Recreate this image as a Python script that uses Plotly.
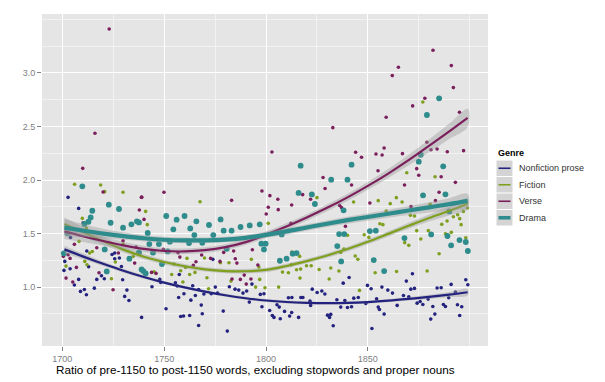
import plotly.graph_objects as go

# ---------------- data ----------------
genres = ["Nonfiction prose", "Fiction", "Verse", "Drama"]
colors = ["#23237f", "#7f9f1f", "#7b1f5c", "#2f8c8c"]

nonfiction_year = [1702.8, 1708, 1704, 1712, 1724.4, 1725.7, 1725.7, 1728, 1701.2, 1703.8, 1712.9, 1700.8,
                   1729, 1719.2, 1720.6, 1716.9, 1729.6, 1708, 1705.9, 1715.7, 1710.8, 1708.9, 1711.8, 1731.7,
                   1730.6, 1732.7, 1773.9, 1757.4, 1744, 1747.8, 1748.3, 1755.5, 1756.4, 1764, 1766.9, 1769.5,
                   1773.1, 1776.2, 1775.1, 1759.7, 1765.3, 1757.1, 1763.1, 1750.9, 1768.2, 1738.9, 1758.1,
                   1759.5, 1762.5, 1768.7, 1766.9, 1793.1, 1782, 1784.8, 1786.6, 1790.5, 1788.7, 1797.2, 1799,
                   1811, 1812.7, 1817.1, 1818.1, 1821.6, 1791.8, 1798, 1805.4, 1801.8, 1803.1, 1803.9, 1806.5,
                   1809.1, 1812.6, 1807, 1811.6, 1816, 1779, 1781, 1837.9, 1840.8, 1822.7, 1825.1, 1827.4,
                   1828.9, 1834.8, 1838.7, 1843.1, 1845.3, 1849.8, 1851.6, 1856.9, 1859.8, 1862.1, 1854.3,
                   1864.4, 1821.9, 1836.7, 1840, 1842, 1855.1, 1855.7, 1858, 1830.2, 1831.8, 1831.2, 1833, 1852,
                   1849, 1871.9, 1868.9, 1871.1, 1872.9, 1884, 1886, 1890.9, 1898.1, 1899.1, 1893, 1867.5,
                   1870.1, 1874.2, 1875.7, 1877, 1879.6, 1881.9, 1887.1, 1888.1, 1889.7, 1894, 1896.1, 1882.9,
                   1880.9, 1895.1]
nonfiction_ratio = [1.838, 1.735, 1.464, 1.337, 1.305, 1.318, 1.265, 1.271, 1.24, 1.171, 1.19, 1.156,
                    1.193, 1.106, 1.078, 1.072, 1.069, 1.072, 1.019, 0.99, 0.978, 0.96, 0.928, 0.972,
                    0.913, 0.875, 1.259, 1.118, 1.003, 1.072, 1.044, 1.041, 1.01, 1.013, 0.978, 0.935,
                    0.938, 0.944, 1.0, 0.938, 0.922, 0.903, 0.878, 0.798, 0.832, 0.717, 0.726,
                    0.73, 0.735, 0.751, 0.642, 1.028, 1.003, 0.981, 0.972, 0.963, 0.944, 0.932, 0.938,
                    0.9, 0.903, 0.903, 0.903, 0.869, 0.86, 0.816, 0.835, 0.782, 0.735, 0.717, 0.813,
                    0.773, 0.763, 0.704, 0.729, 0.717, 0.776, 0.589, 1.037, 1.09, 0.981, 0.95, 0.963,
                    0.935, 0.882, 0.875, 0.897, 0.903, 1.016, 0.985, 1.0, 0.972, 0.944, 0.891,
                    0.829, 0.829, 0.813, 0.81, 0.816, 0.813, 0.791, 0.748, 0.738, 0.745, 0.717, 0.639, 0.614,
                    0.847, 1.125, 1.056, 0.981, 0.988, 0.991, 0.994, 1.025, 1.069, 1.022, 0.953, 0.922,
                    0.91, 0.85, 0.866, 0.838, 0.888, 0.819, 0.838, 0.819, 0.9, 0.835, 0.816, 0.748,
                    0.701, 0.735]

fiction_year = [1706, 1718.8, 1720.8, 1729.8, 1709.8, 1711.8, 1708.2, 1729.8, 1713.4, 1714.7, 1711, 1726,
                1712.1, 1701.8, 1724.1, 1767.6, 1740.9, 1741.7, 1738, 1761.2, 1769.8, 1734.8, 1745, 1754.8,
                1758.1, 1760.5, 1765.1, 1762.5, 1753.7, 1759.2, 1771, 1771.8, 1801.1, 1812.7, 1816.5,
                1777.6, 1781.8, 1792.8, 1796.5, 1815, 1812.4, 1819.9, 1817, 1808.1, 1811, 1816.7, 1782.8,
                1796.9, 1806.2, 1794.9, 1799.5, 1825, 1843, 1855.1, 1861, 1859, 1855.9, 1857.4, 1840,
                1848.2, 1850.5, 1838.2, 1836.7, 1843.8, 1845.1, 1853.6, 1831.8, 1826.1, 1835.8, 1822.2,
                1831, 1845.9, 1864.1, 1869.1, 1883, 1866.8, 1880.6, 1898.9, 1896.9, 1894.1, 1892, 1895.1,
                1870.9, 1872.9, 1888.9, 1886.3, 1895.8, 1874, 1879.7, 1888.1, 1891, 1868.1, 1870.1, 1876,
                1898.1, 1885, 1879.1, 1877, 1864]
fiction_ratio = [1.96, 1.953, 1.891, 1.885, 1.642, 1.552, 1.427, 1.402, 1.318, 1.333, 1.24, 1.234,
                 1.209, 1.196, 1.078, 1.797, 1.707, 1.583, 1.315, 1.268, 1.271, 1.287, 1.143, 1.215,
                 1.153, 1.184, 1.137, 1.118, 1.118, 1.047, 1.087, 0.985, 1.595, 1.327, 1.287,
                 1.228, 1.228, 1.259, 1.187, 1.162, 1.209, 1.2, 1.168, 1.14, 1.134, 1.084, 1.056,
                 1.072, 1.0, 1.0, 0.994, 1.835, 1.794, 1.807, 1.779, 1.71, 1.592, 1.583, 1.483,
                 1.489, 1.464, 1.355, 1.324, 1.29, 1.259, 1.134, 1.178, 1.165, 1.15, 1.2,
                 1.075, 0.969, 1.146, 2.068, 2.031, 1.794, 1.773, 1.738, 1.707, 1.676, 1.657, 1.639,
                 1.67, 1.664, 1.617, 1.586, 1.583, 1.527, 1.527, 1.498, 1.511, 1.415, 1.39, 1.449,
                 1.461, 1.312, 1.15, 2.729, 1.835]

verse_year = [1723, 1716, 1710, 1739, 1720, 1710.2, 1705.9, 1729.8, 1716.9, 1702.8, 1727.5, 1700.5,
              1703.8, 1706.9, 1718, 1701.8, 1705.1, 1724.9, 1749.9, 1738.8, 1737.8, 1740.1, 1736.2,
              1749.6, 1756.8, 1768.4, 1757.7, 1765.6, 1772.8, 1777.4, 1735.5, 1743.8, 1746, 1764.3,
              1798, 1801.9, 1783.1, 1801.1, 1812.6, 1806, 1818, 1800.1, 1812.2, 1793.3, 1784.1, 1779.2,
              1784.9, 1796, 1785.7, 1783.3, 1787.4, 1789.3, 1792.6, 1790.3, 1832.8, 1802.9, 1844,
              1846.9, 1854, 1855, 1828, 1842, 1829, 1805.8, 1821.9, 1836.1, 1837.1, 1851, 1839, 1882,
              1865, 1862, 1891, 1892, 1878, 1872, 1859, 1895, 1858, 1857, 1867, 1879, 1881, 1884, 1889,
              1897, 1874, 1875, 1886, 1893, 1868, 1885, 1871.2, 1883.2]
verse_ratio = [3.41, 2.436, 2.109, 1.84, 1.888, 1.6, 1.399, 1.433, 1.368, 1.302, 1.318, 1.287,
               1.268, 1.184, 1.134, 1.084, 1.047, 0.975, 1.885, 1.838, 1.72, 1.632, 1.374,
               1.352, 1.321, 1.299, 1.28, 1.237, 1.268, 1.24, 1.224, 1.137, 1.128, 1.203,
               1.897, 1.854, 1.81, 1.745, 1.766, 1.723, 1.863, 1.682, 1.595, 1.349, 1.337, 1.324,
               1.265, 1.206, 1.224, 1.075, 1.072, 1.112, 1.075, 1.028, 2.489, 2.262, 2.259,
               2.212, 2.243, 2.087, 2.024, 1.953, 1.92, 1.82, 1.82, 1.763, 1.742, 1.785, 1.567, 3.212,
               3.053, 2.975, 3.068, 2.863, 2.763, 2.692, 2.586, 2.632, 2.299, 2.234, 2.246, 2.352, 2.283, 2.29,
               2.264, 2.274, 2.106, 2.044, 2.031, 1.978, 1.953, 1.885, 1.751, 1.807]

drama_year = [1709.8, 1722.8, 1727.8, 1714.7, 1713.9, 1712.8, 1710.8, 1723.7, 1729.8, 1733.9, 1702.5,
              1720.8, 1700.7, 1732.9, 1721.8, 1736.6, 1737.6, 1751, 1756.1, 1760, 1765.8, 1772, 1762.8,
              1754.5, 1741.9, 1764.8, 1774.1, 1752.8, 1762.2, 1768.7, 1742.7, 1747.4, 1751.7, 1737.6,
              1744.5, 1738.9, 1739.8, 1740.9, 1748.9, 1777.7, 1792, 1796.9, 1787.5, 1779.2, 1783.1,
              1807.7, 1797.7, 1799.8, 1799, 1780.7, 1806.8, 1810.1, 1813.1, 1815, 1816, 1822.5, 1817,
              1842, 1832, 1840, 1824, 1838.1, 1835.9, 1838.4, 1851, 1853.9, 1835, 1836.9, 1852.9, 1858,
              1877.1, 1888.1, 1890, 1881.1, 1889.1, 1868, 1890.9, 1895, 1898.1, 1899.1, 1885, 1879, 1876,
              1875, 1887]
drama_ratio = [1.941, 1.77, 1.729, 1.713, 1.651, 1.61, 1.589, 1.601, 1.555, 1.586, 1.502,
               1.352, 1.315, 1.265, 1.146, 1.614, 1.604, 1.664, 1.63, 1.664, 1.614, 1.58, 1.548,
               1.539, 1.505, 1.486, 1.486, 1.424, 1.411, 1.414, 1.402, 1.402, 1.333, 1.324,
               1.321, 1.165, 1.15, 1.128, 1.215, 1.632, 1.576, 1.586, 1.561, 1.527, 1.527,
               1.492, 1.405, 1.405, 1.352, 1.358, 1.246, 1.265, 1.312, 1.318, 1.879, 1.865, 2.134,
               2.143, 2.003, 2.003, 1.776, 1.717, 1.495, 1.495, 1.523, 1.527, 1.383, 1.24, 1.252, 1.15,
               1.857, 1.866, 1.707, 1.492, 1.477, 1.458, 1.39, 1.439, 1.421, 1.337, 2.763, 2.607, 2.236,
               2.171, 2.128]

# smoothed (loess) curves and their standard-error half widths
smooth_year = [1701, 1710, 1720, 1730, 1740, 1750, 1760, 1770, 1780, 1790, 1800,
               1810, 1820, 1830, 1840, 1850, 1860, 1870, 1880, 1890, 1899]
nonfiction_fit = [1.352, 1.287, 1.218, 1.153, 1.094, 1.042, 0.997, 0.958, 0.924, 0.896, 0.875,
                  0.861, 0.853, 0.85, 0.852, 0.86, 0.873, 0.89, 0.909, 0.93, 0.952]
fiction_fit = [1.59, 1.515, 1.43, 1.35, 1.284, 1.234, 1.195, 1.166, 1.15, 1.148, 1.16,
               1.197, 1.243, 1.295, 1.355, 1.423, 1.497, 1.572, 1.645, 1.712, 1.778]
verse_fit = [1.52, 1.475, 1.43, 1.39, 1.357, 1.337, 1.333, 1.345, 1.373, 1.42, 1.49,
             1.566, 1.65, 1.74, 1.838, 1.945, 2.06, 2.185, 2.318, 2.455, 2.58]
drama_fit = [1.555, 1.528, 1.5, 1.476, 1.456, 1.442, 1.436, 1.437, 1.444, 1.46, 1.488,
             1.52, 1.557, 1.592, 1.625, 1.655, 1.685, 1.715, 1.745, 1.775, 1.805]
nonfiction_se = [0.035, 0.028, 0.022, 0.018, 0.016, 0.014, 0.013, 0.013, 0.013, 0.013, 0.013,
                 0.013, 0.013, 0.013, 0.013, 0.013, 0.014, 0.016, 0.019, 0.024, 0.03]
fiction_se = [0.06, 0.045, 0.035, 0.028, 0.024, 0.022, 0.021, 0.021, 0.021, 0.021, 0.021,
              0.021, 0.021, 0.022, 0.022, 0.023, 0.025, 0.028, 0.033, 0.04, 0.05]
verse_se = [0.07, 0.055, 0.042, 0.034, 0.03, 0.028, 0.027, 0.027, 0.027, 0.028, 0.029,
            0.03, 0.031, 0.032, 0.034, 0.037, 0.042, 0.05, 0.06, 0.072, 0.085]
drama_se = [0.08, 0.06, 0.045, 0.035, 0.03, 0.027, 0.026, 0.026, 0.026, 0.027, 0.028,
            0.029, 0.03, 0.031, 0.033, 0.035, 0.038, 0.042, 0.048, 0.055, 0.065]

x_ticks = [1700, 1750, 1800, 1850]
y_ticks = [1.0, 1.5, 2.0, 2.5, 3.0]
y_ticklabels = ["1.0", "1.5", "2.0", "2.5", "3.0"]
x_title = "Ratio of pre-1150 to post-1150 words, excluding stopwords and proper nouns"
legend_title = "Genre"

# ---------------- figure ----------------
# the page body has an 8px margin, so the figure is drawn 8px smaller and shifted
OFF = 8
W, H = 605 - OFF, 382 - OFF
PANEL_L, PANEL_T, PANEL_R, PANEL_B = 42, 14, 488, 346   # page pixels
ML, MT = PANEL_L - OFF, PANEL_T - OFF
PW, PH = PANEL_R - PANEL_L, PANEL_B - PANEL_T
MR, MB = W - ML - PW, H - MT - PH
FONT = "Liberation Sans, Arial, sans-serif"

pts_year = [nonfiction_year, fiction_year, verse_year, drama_year]
pts_ratio = [nonfiction_ratio, fiction_ratio, verse_ratio, drama_ratio]
fits = [nonfiction_fit, fiction_fit, verse_fit, drama_fit]
ses = [nonfiction_se, fiction_se, verse_se, drama_se]
pt_size = [3.6, 3.6, 3.6, 5.8]
line_w = [2.2, 2.2, 2.2, 4.2]

fig = go.Figure()
for g, c, xs, ys, s in zip(genres, colors, pts_year, pts_ratio, pt_size):
    fig.add_trace(go.Scatter(x=xs, y=ys, mode="markers", name=g, showlegend=False,
                             marker=dict(color=c, size=s, line=dict(width=0))))

for g, c, f, se, lw in zip(genres, colors, fits, ses, line_w):
    upper = [a + b for a, b in zip(f, se)]
    lower = [a - b for a, b in zip(f, se)]
    fig.add_trace(go.Scatter(x=smooth_year + smooth_year[::-1], y=upper + lower[::-1],
                             mode="lines", fill="toself", fillcolor="rgba(153,153,153,0.4)",
                             line=dict(width=0, shape="spline"), hoverinfo="skip", showlegend=False))
    fig.add_trace(go.Scatter(x=smooth_year, y=f, mode="lines", name=g, showlegend=False,
                             line=dict(color=c, width=lw, shape="spline", smoothing=1.0)))


def px_x(p):
    return (p - PANEL_L) / PW


def px_y(p):
    return (PANEL_B - p) / PH


# ggplot-style legend
shapes = []
annotations = [dict(x=px_x(496), y=px_y(152.5), xref="paper", yref="paper", text="<b>" + legend_title + "</b>",
                    showarrow=False, xanchor="left", yanchor="middle",
                    font=dict(family=FONT, size=9, color="#000000"))]
row_top = 160
row_h = 16.5
for i, (g, c, lw) in enumerate(zip(genres, colors, line_w)):
    y0 = row_top + i * row_h
    yc = y0 + row_h / 2
    shapes.append(dict(type="rect", xref="paper", yref="paper", x0=px_x(496.5), x1=px_x(512.5),
                       y0=px_y(y0 + 0.5), y1=px_y(y0 + row_h - 0.5),
                       fillcolor="#D4D4D4", line=dict(width=0), layer="above"))
    shapes.append(dict(type="line", xref="paper", yref="paper", x0=px_x(498.5), x1=px_x(510.5),
                       y0=px_y(yc), y1=px_y(yc), line=dict(color=c, width=lw - 0.6), layer="above"))
    annotations.append(dict(x=px_x(516.5), y=px_y(yc), xref="paper", yref="paper", text=g,
                            showarrow=False, xanchor="left", yanchor="middle",
                            font=dict(family=FONT, size=9, color="#333333")))

annotations.append(dict(x=px_x(255), y=px_y(369), xref="paper", yref="paper", text=x_title,
                        showarrow=False, xanchor="center", yanchor="middle",
                        font=dict(family=FONT, size=11.7, color="#000000")))

fig.update_layout(
    width=W, height=H,
    margin=dict(l=ML, r=MR, t=MT, b=MB, pad=0),
    paper_bgcolor="white", plot_bgcolor="#E5E5E5",
    font=dict(family=FONT, color="#7f7f7f"),
    showlegend=False,
    shapes=shapes, annotations=annotations,
    xaxis=dict(range=[1690, 1909], tickmode="array", tickvals=x_ticks,
               ticks="outside", ticklen=4, tickwidth=1, tickcolor="#7f7f7f",
               tickfont=dict(family=FONT, size=9, color="#7f7f7f"),
               showgrid=True, gridcolor="#FFFFFF", gridwidth=1.3, zeroline=False, showline=False,
               minor=dict(tickmode="array", tickvals=[1725, 1775, 1825, 1875, 1900],
                          showgrid=True, gridcolor="#F2F2F2", gridwidth=0.6, ticks="")),
    yaxis=dict(range=[0.45, 3.55], tickmode="array", tickvals=y_ticks, ticktext=y_ticklabels,
               ticks="outside", ticklen=4, tickwidth=1, tickcolor="#7f7f7f",
               tickfont=dict(family=FONT, size=9, color="#7f7f7f"),
               showgrid=True, gridcolor="#FFFFFF", gridwidth=1.3, zeroline=False, showline=False,
               minor=dict(tickmode="array", tickvals=[0.75, 1.25, 1.75, 2.25, 2.75, 3.25, 3.5],
                          showgrid=True, gridcolor="#F2F2F2", gridwidth=0.6, ticks="")),
)

fig.write_html("out.html")
